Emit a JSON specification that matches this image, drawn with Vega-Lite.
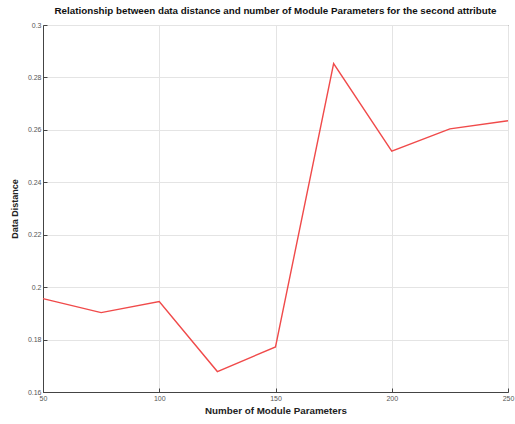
{
  "$schema": "https://vega.github.io/schema/vega-lite/v6.json",
  "autosize": {"type": "none"},
  "width": 465,
  "height": 367,
  "padding": {"left": 43, "top": 25, "right": 7, "bottom": 32},
  "background": "white",
  "title": {
    "text": "Relationship between data distance and number of Module Parameters for the second attribute",
    "fontSize": 9.8,
    "font": "Liberation Sans",
    "fontWeight": "bold",
    "color": "#111",
    "offset": 5,
    "anchor": "middle"
  },
  "config": {
    "view": {"stroke": "#444", "strokeWidth": 1},
    "axis": {
      "labelFont": "Liberation Sans",
      "labelFontSize": 7,
      "labelColor": "#555",
      "titleFont": "Liberation Sans",
      "titleFontWeight": "bold",
      "titleColor": "#222",
      "gridColor": "#e4e4e4",
      "gridWidth": 1,
      "domainColor": "#444",
      "tickColor": "#444",
      "tickSize": -4
    }
  },
  "data": {
    "values": [
      {"params": 50, "distance": 0.1956},
      {"params": 75, "distance": 0.1903},
      {"params": 100, "distance": 0.1945},
      {"params": 125, "distance": 0.1678},
      {"params": 150, "distance": 0.1772},
      {"params": 175, "distance": 0.2853},
      {"params": 200, "distance": 0.2519},
      {"params": 225, "distance": 0.2604},
      {"params": 250, "distance": 0.2635}
    ]
  },
  "mark": {"type": "line", "color": "#f04a4a", "strokeWidth": 1.4},
  "encoding": {
    "x": {
      "field": "params",
      "type": "quantitative",
      "scale": {"domain": [50, 250], "nice": false, "zero": false},
      "axis": {
        "title": "Number of Module Parameters",
        "titleFontSize": 9.8,
        "titlePadding": 4,
        "values": [50, 100, 150, 200, 250],
        "labelPadding": 6,
        "labelFlush": false
      }
    },
    "y": {
      "field": "distance",
      "type": "quantitative",
      "scale": {"domain": [0.16, 0.3], "nice": false, "zero": false},
      "axis": {
        "title": "Data Distance",
        "titleFontSize": 9,
        "titlePadding": 8,
        "values": [0.16, 0.18, 0.2, 0.22, 0.24, 0.26, 0.28, 0.3],
        "format": "~g",
        "labelPadding": 6,
        "labelFlush": false
      }
    }
  }
}
